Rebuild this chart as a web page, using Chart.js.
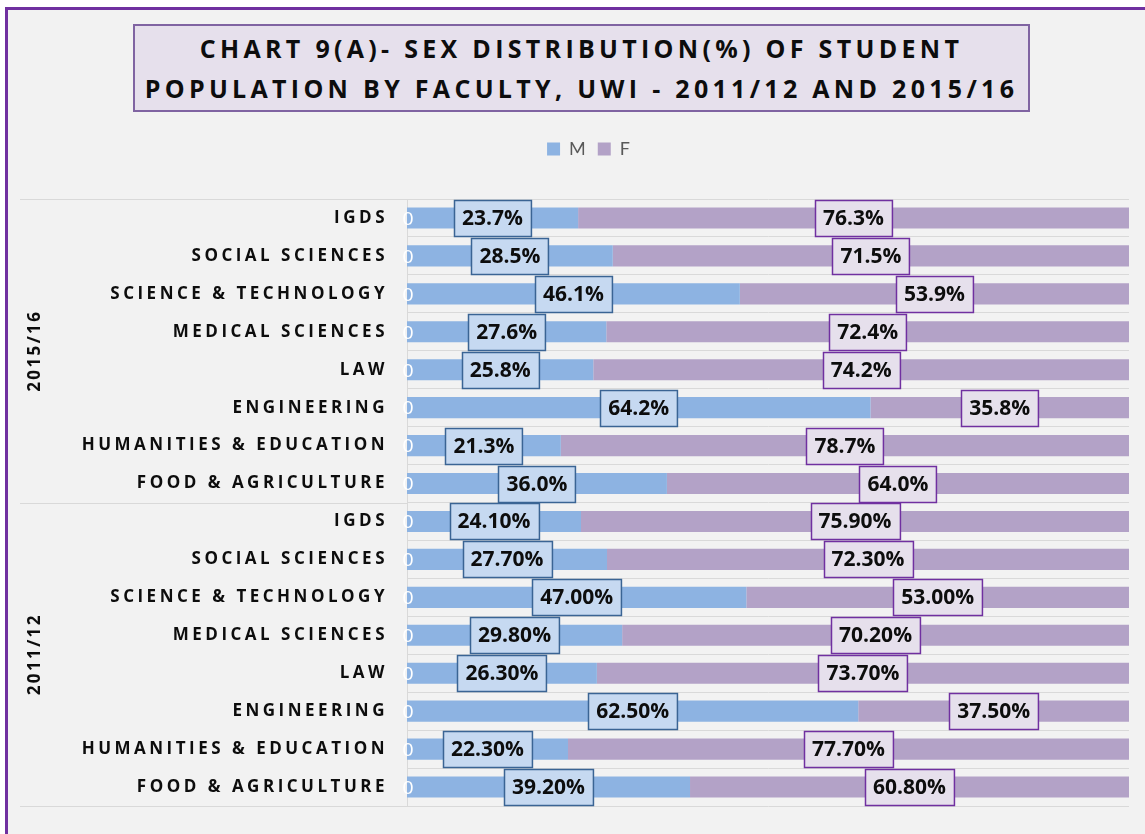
<!DOCTYPE html>
<html>
<head>
<meta charset="utf-8">
<script src="https://cdn.jsdelivr.net/npm/chart.js@4"></script>
<style>
  html, body { margin: 0; padding: 0; background: #ffffff; }
  #frame {
    position: absolute; left: 5px; top: 7px; width: 1200px; height: 900px;
    background: #f2f2f2; border-left: 3px solid #7030a0; border-top: 3px solid #7030a0;
  }
  #title {
    position: absolute; left: 133px; top: 24px; width: 893px; height: 82px;
    background: #e6e0ec; border: 2px solid #8064a2;
    font-family: "Open Sans", sans-serif; font-weight: 700; font-size: 25px;
    letter-spacing: 4.3px; line-height: 40px; text-align: center; color: #0d0d0d;
    padding-top: 2px;
  }
  #chart { position: absolute; left: 0; top: 0; }
</style>
</head>
<body>
<div id="frame"></div>
<div id="title">CHART 9(A)- SEX DISTRIBUTION(%) OF STUDENT<br>POPULATION BY FACULTY, UWI - 2011/12 AND 2015/16</div>
<canvas id="chart" width="1145" height="834"></canvas>
<script>
'use strict';

// faculties, top to bottom inside each period
var faculties = ['IGDS', 'SOCIAL SCIENCES', 'SCIENCE & TECHNOLOGY', 'MEDICAL SCIENCES',
    'LAW', 'ENGINEERING', 'HUMANITIES & EDUCATION', 'FOOD & AGRICULTURE'];
var periods = ['2015/16', '2011/12'];
var decimals = [1, 2]; // 2015/16 labels use one decimal, 2011/12 two

var male1516 = [23.7, 28.5, 46.1, 27.6, 25.8, 64.2, 21.3, 36.0];
var female1516 = [76.3, 71.5, 53.9, 72.4, 74.2, 35.8, 78.7, 64.0];
var male1112 = [24.1, 27.7, 47.0, 29.8, 26.3, 62.5, 22.3, 39.2];
var female1112 = [75.9, 72.3, 53.0, 70.2, 73.7, 37.5, 77.7, 60.8];

var labels = faculties.concat(faculties);
var maleData = male1516.concat(male1112);
var femaleData = female1516.concat(female1112);
var labelFont = 'bold 17px "Open Sans", sans-serif';

// push the plot down below the legend
var legendSpace = {
    id: 'legendSpace',
    beforeInit: function(chart) {
        var fit = chart.legend.fit;
        chart.legend.fit = function() {
            fit.bind(chart.legend)();
            this.height = 71;
        };
    }
};

var extras = {
    id: 'extras',
    afterDraw: function(chart) {
        var ctx = chart.ctx;
        var y = chart.scales.y;
        var area = chart.chartArea;
        var step = y.getPixelForTick(1) - y.getPixelForTick(0);
        ctx.save();

        // group separators reaching to the left
        ctx.strokeStyle = '#d9d9d9';
        ctx.lineWidth = 1;
        [0, faculties.length, labels.length].forEach(function(i) {
            var py = Math.round(y.getPixelForTick(Math.min(i, labels.length - 1)) + (i === labels.length ? step / 2 : -step / 2)) + 0.5;
            ctx.beginPath();
            ctx.moveTo(20, py);
            ctx.lineTo(area.left, py);
            ctx.stroke();
        });

        // category labels with letter spacing
        ctx.fillStyle = '#0d0d0d';
        ctx.font = labelFont;
        ctx.letterSpacing = '3.5px';
        ctx.textAlign = 'right';
        ctx.textBaseline = 'middle';
        labels.forEach(function(l, i) {
            ctx.fillText(l, 388, y.getPixelForTick(i));
        });

        // period labels, rotated
        ctx.letterSpacing = '2.4px';
        ctx.textAlign = 'center';
        periods.forEach(function(p, g) {
            var top = y.getPixelForTick(g * faculties.length);
            var bot = y.getPixelForTick(g * faculties.length + faculties.length - 1);
            ctx.save();
            ctx.translate(35, (top + bot) / 2);
            ctx.rotate(-Math.PI / 2);
            ctx.fillText(p, 0, 0);
            ctx.restore();
        });
        ctx.letterSpacing = '0px';

        // white zero labels at the start of the bars
        ctx.font = '18px Lato, "Open Sans", sans-serif';
        ctx.fillStyle = '#ffffff';
        var x0 = chart.scales.x.getPixelForValue(0);
        labels.forEach(function(l, i) {
            ctx.fillText('0', x0 + 1, y.getPixelForTick(i) + 1);
        });

        // boxed data labels
        ctx.font = 'bold 21px "Open Sans", sans-serif';
        chart.data.datasets.forEach(function(ds, d) {
            var meta = chart.getDatasetMeta(d);
            meta.data.forEach(function(bar, i) {
                var dec = decimals[Math.floor(i / faculties.length)];
                var txt = ds.data[i].toFixed(dec) + '%';
                var cx = (bar.x + bar.base) / 2;
                var w = ctx.measureText(txt).width + 16;
                var h = 36;
                var bx = Math.round(cx - w / 2) + 0.5;
                var by = Math.round(bar.y - h / 2) + 0.5;
                ctx.fillStyle = ds.labelFill;
                ctx.fillRect(bx, by, w, h);
                ctx.lineWidth = 1.5;
                ctx.strokeStyle = ds.labelBorder;
                ctx.strokeRect(bx, by, w, h);
                ctx.fillStyle = '#0d0d0d';
                ctx.fillText(txt, cx, bar.y + 1);
            });
        });
        ctx.restore();
    }
};

var chart = new Chart(document.getElementById('chart').getContext('2d'), {
    type: 'bar',
    data: {
        labels: labels,
        datasets: [
            {
                label: 'M',
                data: maleData,
                backgroundColor: '#8db3e2',
                labelFill: '#c6d9f1',
                labelBorder: '#3a6494',
                barPercentage: 0.9,
                categoryPercentage: 0.62
            },
            {
                label: 'F',
                data: femaleData,
                backgroundColor: '#b3a2c7',
                labelFill: '#e6e0ec',
                labelBorder: '#7030a0',
                barPercentage: 0.9,
                categoryPercentage: 0.62
            }
        ]
    },
    options: {
        indexAxis: 'y',
        responsive: false,
        animation: false,
        layout: { padding: { top: 128, left: 48, right: 16, bottom: 28 } },
        plugins: {
            legend: {
                position: 'top',
                labels: {
                    boxWidth: 13,
                    boxHeight: 13,
                    padding: 12,
                    color: '#595959',
                    font: { family: 'Lato, "Open Sans", sans-serif', size: 18 }
                }
            },
            tooltip: { enabled: false }
        },
        scales: {
            x: { display: false, stacked: true, min: 0, max: 100 },
            y: {
                stacked: true,
                afterFit: function(scale) { scale.width = 359; },
                ticks: { display: false },
                grid: { color: '#d9d9d9', drawTicks: false, offset: true },
                border: { color: '#d9d9d9' }
            }
        }
    },
    plugins: [legendSpace, extras]
});
</script>
</body>
</html>
